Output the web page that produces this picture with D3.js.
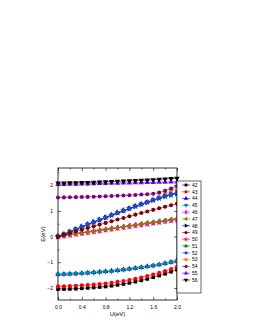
<!DOCTYPE html>
<html>
<head>
<meta charset="utf-8">
<script src="https://cdn.jsdelivr.net/npm/d3@7"></script>
<style>
body{margin:0;background:#fff;}
text{font-family:"Liberation Sans",Arial,sans-serif;}
</style>
</head>
<body>
<script>
var width = 253, height = 327;

// data
var U = [0,0.1,0.2,0.3,0.4,0.5,0.6,0.7,0.8,0.9,1.0,1.1,1.2,1.3,1.4,1.5,1.6,1.7,1.8,1.9,2.0];
var names = ["42","43","44","45","46","47","48","49","50","51","52","53","54","55","56"];
var xTicks = [0,0.4,0.8,1.2,1.6,2.0];
var yTicks = [-2,-1,0,1,2];

var s42 = [-2.05,-2.045,-2.04,-2.03,-2.015,-2.0,-1.985,-1.965,-1.945,-1.915,-1.88,-1.845,-1.805,-1.755,-1.705,-1.65,-1.585,-1.52,-1.45,-1.37,-1.29];
var s43 = [-1.94,-1.935,-1.925,-1.915,-1.9,-1.885,-1.87,-1.85,-1.825,-1.795,-1.765,-1.73,-1.69,-1.645,-1.595,-1.54,-1.48,-1.415,-1.345,-1.265,-1.18];
var s44 = [-1.47,-1.465,-1.455,-1.445,-1.43,-1.415,-1.4,-1.38,-1.36,-1.34,-1.315,-1.29,-1.26,-1.23,-1.2,-1.165,-1.13,-1.09,-1.045,-0.995,-0.94];
var s45 = [-1.47,-1.465,-1.455,-1.445,-1.43,-1.415,-1.4,-1.38,-1.36,-1.34,-1.315,-1.29,-1.26,-1.23,-1.2,-1.165,-1.13,-1.09,-1.045,-0.995,-0.94];
var s46 = [0,0.034,0.068,0.102,0.136,0.17,0.204,0.238,0.272,0.306,0.34,0.374,0.408,0.442,0.476,0.51,0.544,0.578,0.612,0.646,0.68];
var s47 = [0,0.035,0.07,0.105,0.14,0.175,0.21,0.245,0.28,0.315,0.35,0.385,0.42,0.455,0.49,0.525,0.56,0.595,0.63,0.665,0.70];
var s48 = [0,0.095,0.19,0.285,0.38,0.475,0.565,0.655,0.745,0.835,0.925,1.01,1.095,1.18,1.26,1.34,1.42,1.5,1.58,1.65,1.71];
var s49 = [0,0.068,0.135,0.2,0.268,0.335,0.4,0.466,0.532,0.598,0.662,0.726,0.79,0.854,0.916,0.978,1.04,1.1,1.16,1.22,1.28];
var s50 = [0,0.033,0.066,0.099,0.132,0.165,0.198,0.231,0.264,0.297,0.33,0.363,0.396,0.429,0.462,0.495,0.528,0.561,0.594,0.627,0.66];
var s51 = [0,0.095,0.19,0.285,0.38,0.475,0.565,0.655,0.745,0.835,0.925,1.01,1.095,1.18,1.26,1.34,1.42,1.49,1.56,1.62,1.66];
var s52 = [0,0.095,0.19,0.285,0.38,0.475,0.565,0.655,0.745,0.835,0.925,1.01,1.095,1.18,1.26,1.34,1.42,1.5,1.58,1.65,1.71];
var s53 = [0,0.095,0.19,0.285,0.38,0.475,0.565,0.655,0.745,0.835,0.925,1.01,1.095,1.18,1.26,1.34,1.42,1.52,1.66,1.78,1.86];
var s54 = [1.52,1.525,1.53,1.535,1.54,1.545,1.55,1.56,1.57,1.58,1.59,1.6,1.61,1.62,1.635,1.65,1.67,1.71,1.78,1.87,1.97];
var s55 = [2.03,2.035,2.04,2.045,2.05,2.055,2.06,2.065,2.07,2.075,2.08,2.085,2.09,2.095,2.1,2.105,2.11,2.115,2.12,2.125,2.13];
var s56 = [2.08,2.085,2.09,2.095,2.1,2.105,2.11,2.12,2.13,2.14,2.15,2.16,2.17,2.18,2.19,2.2,2.21,2.225,2.24,2.255,2.27];

var values = [s42,s43,s44,s45,s46,s47,s48,s49,s50,s51,s52,s53,s54,s55,s56];
var colors = ["#000000","#ff0000","#0000ff","#008b8b","#ff00ff","#808000","#000080","#800000","#ff0080","#008000","#2040ff","#ff8000","#800080","#8000ff","#000000"];
// symbol type + rotation
var shapes = [
  [d3.symbolSquare,0],[d3.symbolCircle,0],[d3.symbolTriangle,0],[d3.symbolTriangle,180],
  [d3.symbolDiamond,0],[d3.symbolTriangle,-90],[d3.symbolTriangle,90],[d3.symbolCircle,0],
  [d3.symbolStar,0],[d3.symbolStar,0],[d3.symbolCircle,0],[d3.symbolSquare,0],
  [d3.symbolCircle,0],[d3.symbolTriangle,0],[d3.symbolTriangle,180]];
var drawOrder = [0,1,2,3,4,8,5,11,9,6,10,7,12,13,14];

var pL = 58, pR = 177, pT = 168, pB = 300;

var x = d3.scaleLinear().domain([0,2]).range([pL,pR]);
var y = d3.scaleLinear().domain([-2.47,2.67]).range([pB,pT]);

var svg = d3.select("body").append("svg")
    .attr("width", width)
    .attr("height", height);

// frame
svg.append("rect")
    .attr("x", pL).attr("y", pT)
    .attr("width", pR-pL).attr("height", pB-pT)
    .attr("fill","none").attr("stroke","#000").attr("stroke-width",0.8);

function styleAxis(g){
  g.select(".domain").remove();
  g.selectAll("line").attr("stroke","#000").attr("stroke-width",0.6);
  g.selectAll("text").attr("font-size","5px").attr("fill","#000");
}

var xMinor = [0.2,0.6,1.0,1.4,1.8];
var yMinor = [-2.5,-1.5,-0.5,0.5,1.5,2.5];

svg.append("g").attr("transform","translate(0,"+pB+")")
  .call(d3.axisBottom(x).tickValues(xTicks).tickSize(-3).tickPadding(5).tickFormat(d3.format(".1f")))
  .call(styleAxis);
svg.append("g").attr("transform","translate(0,"+pB+")")
  .call(d3.axisBottom(x).tickValues(xMinor).tickSize(-1.5).tickFormat(""))
  .call(styleAxis);
svg.append("g").attr("transform","translate(0,"+pT+")")
  .call(d3.axisTop(x).tickValues(xTicks).tickSize(-3).tickFormat(""))
  .call(styleAxis);
svg.append("g").attr("transform","translate(0,"+pT+")")
  .call(d3.axisTop(x).tickValues(xMinor).tickSize(-1.5).tickFormat(""))
  .call(styleAxis);

svg.append("g").attr("transform","translate("+pL+",0)")
  .call(d3.axisLeft(y).tickValues(yTicks).tickSize(-3).tickPadding(5).tickFormat(d3.format("d")))
  .call(styleAxis);
svg.append("g").attr("transform","translate("+pL+",0)")
  .call(d3.axisLeft(y).tickValues(yMinor.filter(function(v){return y(v)>=pT && y(v)<=pB;})).tickSize(-1.5).tickFormat(""))
  .call(styleAxis);
svg.append("g").attr("transform","translate("+pR+",0)")
  .call(d3.axisRight(y).tickValues(yTicks).tickSize(-3).tickFormat(""))
  .call(styleAxis);

// axis titles
svg.append("text").attr("x",(pL+pR)/2).attr("y",316)
  .attr("text-anchor","middle").attr("font-size","6px").text("U(eV)");
svg.append("text").attr("transform","translate(45,"+((pT+pB)/2)+") rotate(-90)")
  .attr("text-anchor","middle").attr("font-size","6px").text("E(eV)");

var line = d3.line()
    .x(function(d,i){ return x(U[i]); })
    .y(function(d){ return y(d); });

var plot = svg.append("g");
drawOrder.forEach(function(k){
  var g = plot.append("g");
  g.append("path").datum(values[k])
    .attr("d", line).attr("fill","none")
    .attr("stroke", colors[k]).attr("stroke-width",0.6);
  var sym = d3.symbol().type(shapes[k][0]).size(shapes[k][0]===d3.symbolStar ? 16 : 13);
  g.selectAll("path.pt").data(values[k]).enter().append("path")
    .attr("class","pt")
    .attr("d", sym)
    .attr("transform", function(d,i){ return "translate("+x(U[i])+","+y(d)+") rotate("+shapes[k][1]+")"; })
    .attr("fill", colors[k]);
});

// legend
var lg = svg.append("g");
lg.append("rect").attr("x",177).attr("y",181).attr("width",24).attr("height",112)
  .attr("fill","#fff").attr("stroke","#000").attr("stroke-width",0.6);
var ly = d3.scalePoint().domain(names).range([185,280]);
names.forEach(function(n,k){
  var yy = ly(n);
  lg.append("line").attr("x1",182).attr("x2",190).attr("y1",yy).attr("y2",yy)
    .attr("stroke",colors[k]).attr("stroke-width",0.6);
  lg.append("path").attr("d", d3.symbol().type(shapes[k][0]).size(8))
    .attr("transform","translate(186,"+yy+") rotate("+shapes[k][1]+")")
    .attr("fill",colors[k]);
  lg.append("text").attr("x",192).attr("y",yy+1.8).attr("font-size","5px").text(n);
});
</script>
</body>
</html>
